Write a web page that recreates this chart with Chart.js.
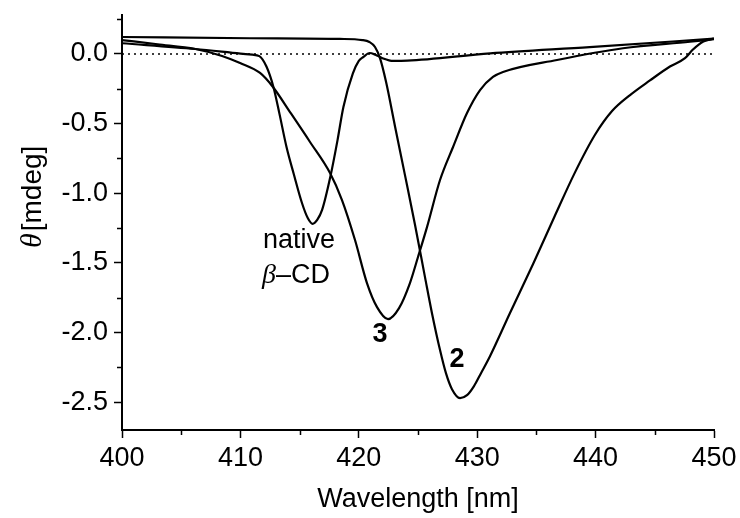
<!DOCTYPE html>
<html>
<head>
<meta charset="utf-8">
<script src="https://cdn.jsdelivr.net/npm/chart.js@4/dist/chart.umd.min.js"></script>
<style>
  html, body { margin: 0; padding: 0; background: #fff; }
  canvas { display: block; }
</style>
</head>
<body>
<canvas id="cd" width="740" height="518"></canvas>
<script>
// CD spectra, wavelength in nm, theta in mdeg
const wl2 = [400, 410.8, 418.4, 420.3, 420.9, 421.37, 421.79, 422.3, 423.06, 423.9, 424.75, 425.59, 426.18, 426.86, 427.36, 427.87, 428.55, 429.14, 429.73, 430.32, 431.08, 432.77, 434.71, 436.57, 438.26, 439.95, 441.39, 442.91, 444.59, 446.28, 447.55, 448.2, 449.1, 450]
const cd2 = [0.122, 0.113, 0.108, 0.10, 0.086, 0.05, -0.03, -0.20, -0.52, -0.87, -1.228, -1.602, -1.861, -2.126, -2.292, -2.407, -2.471, -2.45, -2.385, -2.292, -2.17, -1.86, -1.51, -1.16, -0.85, -0.58, -0.41, -0.295, -0.19, -0.09, -0.03, 0.03, 0.09, 0.11]

const wl3 = [400, 403, 406.2, 408.45, 409.97, 411.66, 412.75, 414.19, 415.88, 417.57, 418.58, 419.68, 420.69, 421.54, 422.47, 423.4, 424.32, 425.0, 425.76, 426.86, 427.96, 429.14, 430.24, 431.33, 432.18, 436.74, 442.31, 447.97, 450]
const cd3 = [0.10, 0.07, 0.036, -0.014, -0.065, -0.136, -0.237, -0.417, -0.632, -0.855, -1.049, -1.336, -1.645, -1.818, -1.904, -1.825, -1.645, -1.458, -1.243, -0.905, -0.668, -0.424, -0.259, -0.165, -0.129, -0.043, 0.041, 0.088, 0.106]

const wlNative = [400, 406.2, 410, 411.0, 411.6, 412.2, 412.8, 413.3, 413.9, 414.5, 415.2, 415.7, 416.1, 416.5, 416.9, 417.6, 418.2, 418.7, 419.5, 420.0, 420.4, 420.9, 421.4, 422.0, 422.9, 424.1, 431.1, 439.5, 450]
const cdNative = [0.077, 0.036, 0.003, -0.005, -0.015, -0.09, -0.24, -0.43, -0.67, -0.86, -1.07, -1.18, -1.22, -1.19, -1.12, -0.88, -0.62, -0.38, -0.14, -0.05, -0.02, 0.007, -0.005, -0.03, -0.05, -0.048, 0.005, 0.05, 0.11]

const xTicks = [400, 410, 420, 430, 440, 450]
const xMinor = [405, 415, 425, 435, 445]
const yTicks = [0, -0.5, -1.0, -1.5, -2.0, -2.5]
const yMinor = [0.25, -0.25, -0.75, -1.25, -1.75, -2.25]

// curve labels, anchored in data units (centre, baseline)
const notes = [
  { parts: [['native', 'n']], x: 414.95, y: -1.394 },
  { parts: [['β', 'g'], ['–CD', 'n']], x: 414.7, y: -1.645 },
  { parts: [['3', 'b']], x: 421.8, y: -2.07 },
  { parts: [['2', 'b']], x: 428.3, y: -2.25 }
]

const SANS = '"Liberation Sans", Arial, Helvetica, sans-serif'
const SERIF = '"Liberation Serif", "Times New Roman", serif'
const FS = 27

const fontFor = k => k === 'b' ? `bold ${FS}px ${SANS}`
  : k === 'g' ? `italic ${FS + 1}px ${SERIF}`
  : `${FS}px ${SANS}`

const toXY = (xs, ys) => xs.map((x, i) => ({ x, y: ys[i] }))

const curve = data => ({
  data,
  borderColor: '#000',
  borderWidth: 2.2,
  pointRadius: 0,
  cubicInterpolationMode: 'monotone',
  fill: false
})

const decor = {
  id: 'decor',
  afterDraw (chart) {
    const { ctx, scales: { x, y } } = chart
    ctx.save()
    ctx.strokeStyle = '#000'
    ctx.lineWidth = 1.5
    ctx.beginPath()
    xMinor.forEach(v => {
      const px = Math.round(x.getPixelForValue(v)) + 0.5
      ctx.moveTo(px, x.top)
      ctx.lineTo(px, x.top + 5)
    })
    yMinor.forEach(v => {
      const py = Math.round(y.getPixelForValue(v)) + 0.5
      ctx.moveTo(y.right, py)
      ctx.lineTo(y.right - 5, py)
    })
    ctx.stroke()

    // curve labels
    ctx.fillStyle = '#000'
    ctx.textBaseline = 'alphabetic'
    ctx.textAlign = 'left'
    notes.forEach(n => {
      const widths = n.parts.map(([t, k]) => { ctx.font = fontFor(k); return ctx.measureText(t).width })
      let px = x.getPixelForValue(n.x) - widths.reduce((a, b) => a + b, 0) / 2
      const py = y.getPixelForValue(n.y)
      n.parts.forEach(([t, k], i) => {
        ctx.font = fontFor(k)
        ctx.fillText(t, px, py)
        px += widths[i]
      })
    })

    // y axis title: italic theta + [mdeg]
    ctx.translate(41, 248)
    ctx.rotate(-Math.PI / 2)
    ctx.font = `italic ${FS + 3}px ${SERIF}`
    ctx.fillText('θ', 0, 0)
    const w = ctx.measureText('θ').width
    ctx.font = `${FS + 1}px ${SANS}`
    ctx.fillText('[mdeg]', w + 2, 0)
    ctx.restore()
  }
}

new Chart(document.getElementById('cd'), {
  type: 'line',
  data: {
    datasets: [
      curve(toXY(wl2, cd2)),
      curve(toXY(wl3, cd3)),
      curve(toXY(wlNative, cdNative)),
      {
        data: [{ x: 400, y: 0 }, { x: 450, y: 0 }],
        borderColor: '#000',
        borderWidth: 1.5,
        borderDash: [2, 4],
        pointRadius: 0
      }
    ]
  },
  options: {
    responsive: false,
    devicePixelRatio: 1,
    animation: false,
    layout: { padding: { top: 15, right: 26, left: 0, bottom: 0 } },
    plugins: { legend: { display: false }, tooltip: { enabled: false } },
    scales: {
      x: {
        type: 'linear',
        min: 400,
        max: 450,
        afterBuildTicks: s => { s.ticks = xTicks.map(value => ({ value })) },
        afterFit: s => { s.height = 88; s.paddingLeft = 0; s.paddingRight = 0 },
        grid: { drawOnChartArea: false, drawTicks: true, tickLength: 8, tickWidth: 1.5, color: '#000' },
        border: { display: true, color: '#000', width: 2 },
        ticks: {
          color: '#000',
          padding: 4,
          maxRotation: 0,
          font: { family: SANS, size: FS },
          callback: v => String(v)
        },
        title: {
          display: true,
          text: 'Wavelength [nm]',
          color: '#000',
          font: { family: SANS, size: FS },
          padding: { top: 0, bottom: 2 }
        }
      },
      y: {
        type: 'linear',
        min: -2.7,
        max: 0.28,
        afterBuildTicks: s => { s.ticks = yTicks.map(value => ({ value })) },
        afterFit: s => { s.width = 122; s.paddingTop = 0; s.paddingBottom = 0 },
        grid: { drawOnChartArea: false, drawTicks: true, tickLength: 8, tickWidth: 1.5, color: '#000' },
        border: { display: true, color: '#000', width: 2 },
        ticks: {
          color: '#000',
          padding: 6,
          font: { family: SANS, size: FS },
          callback: v => v.toFixed(1)
        }
      }
    }
  },
  plugins: [decor]
})
</script>
</body>
</html>
